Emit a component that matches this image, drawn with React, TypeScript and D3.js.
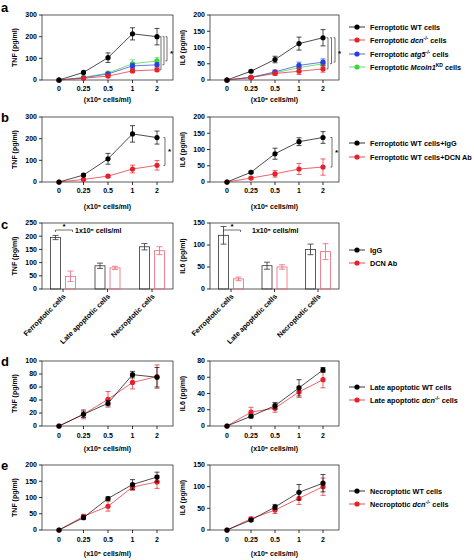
import React from "react";
import * as d3 from "d3";

const FONT = "'Liberation Sans', Arial, sans-serif";
const RED = "#e8202a";
const BLUE = "#2a3fe0";
const GREEN = "#3dd63d";
const BLACK = "#000";

const doses = ["0", "0.25", "0.5", "1", "2"];

// panel a
const aTnfWT = [0, 35, 103, 213, 200];
const aTnfWTErr = [0, 5, 22, 28, 38];
const aTnfDcn = [0, 8, 18, 42, 47];
const aTnfDcnErr = [0, 3, 5, 8, 8];
const aTnfAtg5 = [0, 10, 28, 65, 70];
const aTnfAtg5Err = [0, 3, 6, 12, 10];
const aTnfMcoln = [0, 12, 32, 75, 88];
const aTnfMcolnErr = [0, 3, 6, 18, 15];
const aIl6WT = [0, 27, 63, 112, 130];
const aIl6WTErr = [0, 3, 10, 20, 25];
const aIl6Dcn = [0, 8, 20, 27, 34];
const aIl6DcnErr = [0, 3, 5, 10, 10];
const aIl6Atg5 = [0, 8, 25, 45, 55];
const aIl6Atg5Err = [0, 3, 5, 10, 10];
const aIl6Mcoln = [0, 8, 22, 38, 50];
const aIl6McolnErr = [0, 2, 5, 8, 8];

// panel b
const bTnfIgG = [0, 32, 107, 222, 205];
const bTnfIgGErr = [0, 5, 25, 38, 30];
const bTnfDcn = [0, 12, 27, 60, 77];
const bTnfDcnErr = [0, 3, 5, 18, 22];
const bIl6IgG = [0, 30, 87, 124, 137];
const bIl6IgGErr = [0, 3, 17, 12, 18];
const bIl6Dcn = [0, 12, 25, 40, 46];
const bIl6DcnErr = [0, 3, 10, 17, 25];

// panel c
const cCats = ["Ferroptotic cells", "Late apoptotic cells", "Necroptotic cells"];
const cTnfIgG = [195, 88, 160];
const cTnfIgGErr = [8, 10, 12];
const cTnfDcn = [48, 80, 145];
const cTnfDcnErr = [20, 6, 15];
const cIl6IgG = [122, 53, 90];
const cIl6IgGErr = [20, 8, 12];
const cIl6Dcn = [23, 50, 85];
const cIl6DcnErr = [4, 5, 18];

// panel d
const dTnfWT = [0, 18, 35, 79, 75];
const dTnfWTErr = [0, 5, 4, 5, 15];
const dTnfDcn = [0, 18, 41, 67, 76];
const dTnfDcnErr = [0, 7, 12, 10, 18];
const dIl6WT = [0, 12, 25, 47, 69];
const dIl6WTErr = [0, 2, 4, 10, 3];
const dIl6Dcn = [0, 17, 22, 42, 57];
const dIl6DcnErr = [0, 6, 5, 7, 10];

// panel e
const eTnfWT = [0, 38, 97, 140, 163];
const eTnfWTErr = [0, 5, 5, 15, 15];
const eTnfDcn = [0, 42, 73, 132, 148];
const eTnfDcnErr = [0, 6, 15, 10, 20];
const eIl6WT = [0, 23, 53, 87, 108];
const eIl6WTErr = [0, 3, 6, 18, 20];
const eIl6Dcn = [0, 26, 46, 73, 100];
const eIl6DcnErr = [0, 4, 8, 14, 20];

const LX0 = 42, LX1 = 173, RX0 = 210, RX1 = 339;

type Series = { v: number[]; e: number[]; c: string };

function Box({ x0, x1, yTop, yBot }: any) {
  return <rect x={x0} y={yTop} width={x1 - x0} height={yBot - yTop} fill="none" stroke="#333" strokeWidth={0.8} />;
}

function YAxis({ x0, y, ticks, label, yTop, yBot }: any) {
  return (
    <g>
      {ticks.map((t: number) => (
        <g key={t}>
          <line x1={x0 - 3} x2={x0} y1={y(t)} y2={y(t)} stroke="#000" strokeWidth={0.8} />
          <text x={x0 - 5} y={y(t)} dy="0.35em" textAnchor="end" fontSize={7} fontWeight="bold" fontFamily={FONT}>{t}</text>
        </g>
      ))}
      <text transform={`translate(${x0 - 25},${(yTop + yBot) / 2}) rotate(-90)`} textAnchor="middle" fontSize={7} fontWeight="bold" fontFamily={FONT}>{label}</text>
    </g>
  );
}

function LinePlot({ x0, x1, yTop, yBot, yMax, yTicks, label, series, tickY, xLabY, marks, sq }: any) {
  const x = d3.scalePoint<string>().domain(doses).range([x0 + 17, x1 - 16]);
  const y = d3.scaleLinear().domain([0, yMax]).range([yBot, yTop]);
  const line = d3.line<number>().x((_, i) => x(doses[i]) as number).y((d) => y(d));
  return (
    <g>
      <Box x0={x0} x1={x1} yTop={yTop} yBot={yBot} />
      <YAxis x0={x0} y={y} ticks={yTicks} label={label} yTop={yTop} yBot={yBot} />
      {doses.map((d) => (
        <g key={d}>
          <line x1={x(d)} x2={x(d)} y1={yBot} y2={yBot + 3} stroke="#000" strokeWidth={0.8} />
          <text x={x(d)} y={tickY} textAnchor="middle" fontSize={7} fontWeight="bold" fontFamily={FONT}>{d}</text>
        </g>
      ))}
      <text x={(x0 + x1) / 2} y={xLabY} textAnchor="middle" fontSize={7} fontWeight="bold" fontFamily={FONT}>(x10⁵ cells/ml)</text>
      {series.map((s: Series, si: number) => (
        <g key={si}>
          <path d={line(s.v) || ""} fill="none" stroke={s.c} strokeWidth={0.7} />
          {s.v.map((v, i) => {
            const cx = x(doses[i]) as number;
            const e = s.e[i];
            return (
              <g key={i}>
                {e > 0 && (
                  <g stroke={s.c} strokeWidth={0.7}>
                    <line x1={cx} x2={cx} y1={y(v - e)} y2={y(v + e)} />
                    <line x1={cx - 2.5} x2={cx + 2.5} y1={y(v + e)} y2={y(v + e)} />
                    <line x1={cx - 2.5} x2={cx + 2.5} y1={y(v - e)} y2={y(v - e)} />
                  </g>
                )}
                {sq ? (
                  <rect x={cx - 2.4} y={y(v) - 2.4} width={4.8} height={4.8} fill={s.c} />
                ) : (
                  <circle cx={cx} cy={y(v)} r={2.6} fill={s.c} />
                )}
              </g>
            );
          })}
        </g>
      ))}
      {marks &&
        marks.map((m: any, i: number) => (
          <g key={i} stroke="#333" strokeWidth={0.7}>
            <line x1={m.x} x2={m.x} y1={y(m.a)} y2={y(m.b)} />
            <line x1={m.x - 1.5} x2={m.x} y1={y(m.a)} y2={y(m.a)} />
            <line x1={m.x - 1.5} x2={m.x} y1={y(m.b)} y2={y(m.b)} />
          </g>
        ))}
      {marks && marks.length > 0 && (
        <text x={Math.max(...marks.map((m: any) => m.x)) + 3} y={y((marks[0].a + marks[0].b) / 2) + 3} fontSize={8} fontWeight="bold" fontFamily={FONT}>*</text>
      )}
    </g>
  );
}

function BarPlot({ x0, x1, yTop, yBot, yMax, yTicks, label, igg, iggE, dcn, dcnE, sig, noteX }: any) {
  const x = d3.scalePoint<string>().domain(cCats).range([x0 + 21, x1 - 21]);
  const y = d3.scaleLinear().domain([0, yMax]).range([yBot, yTop]);
  const bw = 10;
  const off = 7.5;
  const bars = [
    { vals: igg, errs: iggE, c: "#333", dx: -off },
    { vals: dcn, errs: dcnE, c: "#ee6677", dx: off },
  ];
  return (
    <g>
      <Box x0={x0} x1={x1} yTop={yTop} yBot={yBot} />
      <YAxis x0={x0} y={y} ticks={yTicks} label={label} yTop={yTop} yBot={yBot} />
      {cCats.map((c) => (
        <g key={c}>
          <line x1={x(c)} x2={x(c)} y1={yBot} y2={yBot + 3} stroke="#000" strokeWidth={0.8} />
          <text transform={`translate(${(x(c) as number) + 3},${yBot + 8}) rotate(-45)`} textAnchor="end" fontSize={7.2} fontWeight="bold" fontFamily={FONT}>{c}</text>
        </g>
      ))}
      {bars.map((b, bi) =>
        cCats.map((c, i) => {
          const cx = (x(c) as number) + b.dx;
          const v = b.vals[i];
          const e = b.errs[i];
          return (
            <g key={bi + "-" + i} stroke={b.c} strokeWidth={0.8} fill="none">
              <rect x={cx - bw / 2} y={y(v)} width={bw} height={yBot - y(v)} />
              <line x1={cx} x2={cx} y1={y(v - e)} y2={y(v + e)} />
              <line x1={cx - 3} x2={cx + 3} y1={y(v + e)} y2={y(v + e)} />
              <line x1={cx - 3} x2={cx + 3} y1={y(v - e)} y2={y(v - e)} />
            </g>
          );
        })
      )}
      <g stroke="#333" strokeWidth={0.7}>
        <line x1={(x(cCats[0]) as number) - off} x2={(x(cCats[0]) as number) + off + 2} y1={sig} y2={sig} />
        <line x1={(x(cCats[0]) as number) - off} x2={(x(cCats[0]) as number) - off} y1={sig} y2={sig + 2} />
        <line x1={(x(cCats[0]) as number) + off + 2} x2={(x(cCats[0]) as number) + off + 2} y1={sig} y2={sig + 2} />
      </g>
      <text x={(x(cCats[0]) as number) + 1} y={sig - 1} textAnchor="middle" fontSize={8} fontWeight="bold" fontFamily={FONT}>*</text>
      <text x={noteX} y={yTop + 10} fontSize={7} fontWeight="bold" fontFamily={FONT}>1x10⁵ cells/ml</text>
    </g>
  );
}

function LegendItem({ y, c, children }: any) {
  return (
    <g>
      <line x1={349} x2={365} y1={y} y2={y} stroke={c} strokeWidth={0.8} />
      <circle cx={357} cy={y} r={2.6} fill={c} />
      <text x={370} y={y} dy="0.35em" fontSize={7.3} fontWeight="bold" fontFamily={FONT}>{children}</text>
    </g>
  );
}

const Sup = ({ t }: any) => (
  <>
    <tspan dy={-2.5} fontSize={5}>{t}</tspan>
    <tspan dy={2.5}> </tspan>
  </>
);

function PanelLabel({ x, y, t }: any) {
  return <text x={x} y={y} fontSize={13} fontWeight="bold" fontFamily={FONT}>{t}</text>;
}

export default function App() {
  return (
    <svg width={474} height={560} style={{ position: "absolute", left: 0, top: 0, background: "#fff" }}>
      <rect width={474} height={560} fill="#fff" />
      <PanelLabel x={1} y={12} t="a" />
      <PanelLabel x={1} y={122} t="b" />
      <PanelLabel x={1} y={229} t="c" />
      <PanelLabel x={1} y={366} t="d" />
      <PanelLabel x={1} y={470} t="e" />

      {/* panel a */}
      <LinePlot x0={LX0} x1={LX1} yTop={15} yBot={80} yMax={300} yTicks={[0, 100, 200, 300]} label="TNF (pg/ml)" tickY={91} xLabY={102}
        series={[
          { v: aTnfMcoln, e: aTnfMcolnErr, c: GREEN },
          { v: aTnfAtg5, e: aTnfAtg5Err, c: BLUE },
          { v: aTnfDcn, e: aTnfDcnErr, c: RED },
          { v: aTnfWT, e: aTnfWTErr, c: BLACK },
        ]}
        marks={[{ x: 161, a: 200, b: 47 }, { x: 164, a: 200, b: 70 }, { x: 167, a: 200, b: 88 }]} />
      <LinePlot x0={RX0} x1={RX1} yTop={15} yBot={80} yMax={200} yTicks={[0, 50, 100, 150, 200]} label="IL6 (pg/ml)" tickY={91} xLabY={102}
        series={[
          { v: aIl6Mcoln, e: aIl6McolnErr, c: GREEN },
          { v: aIl6Atg5, e: aIl6Atg5Err, c: BLUE },
          { v: aIl6Dcn, e: aIl6DcnErr, c: RED },
          { v: aIl6WT, e: aIl6WTErr, c: BLACK },
        ]}
        marks={[{ x: 328, a: 130, b: 34 }, { x: 331.5, a: 130, b: 50 }, { x: 335, a: 130, b: 55 }]} />
      <LegendItem y={27} c={BLACK}>Ferroptotic WT cells</LegendItem>
      <LegendItem y={40} c={RED}>Ferroptotic <tspan fontStyle="italic">dcn</tspan><Sup t="-/-" />cells</LegendItem>
      <LegendItem y={54} c={BLUE}>Ferroptotic <tspan fontStyle="italic">atg5</tspan><Sup t="-/-" />cells</LegendItem>
      <LegendItem y={67} c={GREEN}>Ferroptotic <tspan fontStyle="italic">Mcoln1</tspan><Sup t="KD" />cells</LegendItem>

      {/* panel b */}
      <LinePlot x0={LX0} x1={LX1} yTop={117} yBot={182} yMax={300} yTicks={[0, 100, 200, 300]} label="TNF (pg/ml)" tickY={193} xLabY={209}
        series={[
          { v: bTnfDcn, e: bTnfDcnErr, c: RED },
          { v: bTnfIgG, e: bTnfIgGErr, c: BLACK },
        ]}
        marks={[{ x: 165, a: 205, b: 77 }]} />
      <LinePlot x0={RX0} x1={RX1} yTop={117} yBot={182} yMax={200} yTicks={[0, 50, 100, 150, 200]} label="IL6 (pg/ml)" tickY={193} xLabY={209}
        series={[
          { v: bIl6Dcn, e: bIl6DcnErr, c: RED },
          { v: bIl6IgG, e: bIl6IgGErr, c: BLACK },
        ]}
        marks={[{ x: 332, a: 137, b: 46 }]} />
      <LegendItem y={143} c={BLACK}>Ferroptotic WT cells+IgG</LegendItem>
      <LegendItem y={157} c={RED}>Ferroptotic WT cells+DCN Ab</LegendItem>

      {/* panel c */}
      <BarPlot x0={LX0} x1={LX1} yTop={223} yBot={289} yMax={250} yTicks={[0, 50, 100, 150, 200, 250]} label="TNF (pg/ml)"
        igg={cTnfIgG} iggE={cTnfIgGErr} dcn={cTnfDcn} dcnE={cTnfDcnErr} sig={230} noteX={75} />
      <BarPlot x0={RX0} x1={RX1} yTop={223} yBot={289} yMax={150} yTicks={[0, 50, 100, 150]} label="IL6 (pg/ml)"
        igg={cIl6IgG} iggE={cIl6IgGErr} dcn={cIl6Dcn} dcnE={cIl6DcnErr} sig={230} noteX={252} />
      <LegendItem y={250} c={BLACK}>IgG</LegendItem>
      <LegendItem y={263} c={RED}>DCN Ab</LegendItem>

      {/* panel d */}
      <LinePlot x0={LX0} x1={LX1} yTop={361} yBot={426} yMax={100} yTicks={[0, 20, 40, 60, 80, 100]} label="TNF (pg/ml)" tickY={438} xLabY={451}
        series={[
          { v: dTnfDcn, e: dTnfDcnErr, c: RED },
          { v: dTnfWT, e: dTnfWTErr, c: BLACK },
        ]} />
      <LinePlot x0={RX0} x1={RX1} yTop={361} yBot={426} yMax={80} yTicks={[0, 20, 40, 60, 80]} label="IL6 (pg/ml)" tickY={438} xLabY={451}
        series={[
          { v: dIl6Dcn, e: dIl6DcnErr, c: RED },
          { v: dIl6WT, e: dIl6WTErr, c: BLACK },
        ]} />
      <LegendItem y={387} c={BLACK}>Late apoptotic WT cells</LegendItem>
      <LegendItem y={400} c={RED}>Late apoptotic <tspan fontStyle="italic">dcn</tspan><Sup t="-/-" />cells</LegendItem>

      {/* panel e */}
      <LinePlot x0={LX0} x1={LX1} yTop={465} yBot={530} yMax={200} yTicks={[0, 50, 100, 150, 200]} label="TNF (pg/ml)" tickY={542} xLabY={556}
        series={[
          { v: eTnfDcn, e: eTnfDcnErr, c: RED },
          { v: eTnfWT, e: eTnfWTErr, c: BLACK },
        ]} />
      <LinePlot x0={RX0} x1={RX1} yTop={465} yBot={530} yMax={150} yTicks={[0, 50, 100, 150]} label="IL6 (pg/ml)" tickY={542} xLabY={556}
        series={[
          { v: eIl6Dcn, e: eIl6DcnErr, c: RED },
          { v: eIl6WT, e: eIl6WTErr, c: BLACK },
        ]} />
      <LegendItem y={491} c={BLACK}>Necroptotic WT cells</LegendItem>
      <LegendItem y={504} c={RED}>Necroptotic <tspan fontStyle="italic">dcn</tspan><Sup t="-/-" />cells</LegendItem>
    </svg>
  );
}
